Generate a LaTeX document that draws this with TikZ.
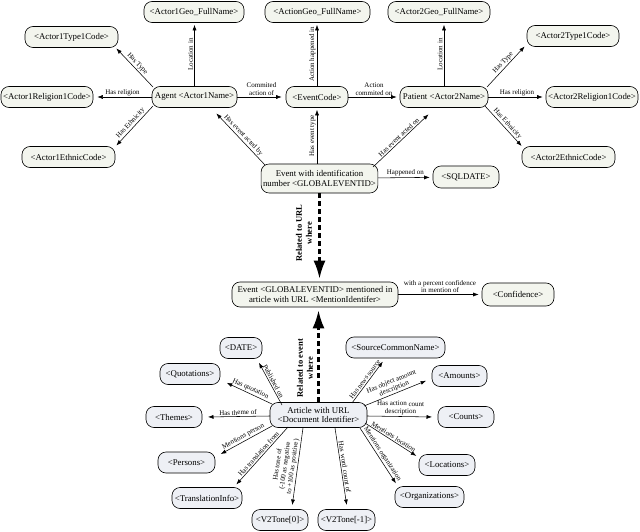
\documentclass[tikz,border=0pt]{standalone}
\usepackage{fontspec}
\setmainfont{Liberation Serif}
\usetikzlibrary{arrows.meta,calc}
\definecolor{topfill}{HTML}{F3F5EE}
\definecolor{botfill}{HTML}{EEF0F5}
\tikzset{
  box/.style={draw=black, line width=0.6pt, rounded corners=8pt, fill=topfill,
    minimum height=21pt, inner xsep=2pt, inner ysep=1pt,
    font=\fontsize{8.8}{9.8}\selectfont, align=center},
  boxb/.style={box, fill=botfill},
  arr/.style={-{Latex[length=5.5pt,width=4pt]}, line width=0.55pt, shorten >=2pt},
  lbl/.style={font=\fontsize{7}{7.6}\selectfont, sloped, above, inner sep=1.2pt, align=center, midway},
  bigdash/.style={line width=2.4pt, dash pattern=on 5pt off 3pt,
    -{Latex[length=18pt,width=12pt]}, shorten >=3pt},
  rellbl/.style={font=\bfseries\fontsize{8.5}{10}\selectfont, align=center, rotate=90}
}
\begin{document}
\begin{tikzpicture}[x=1pt,y=-1pt]
\fill[white] (0,0) rectangle (640,532);
\useasboundingbox (0,0) rectangle (640,532);
% top nodes
\node[box, minimum width=100pt] (geo1) at (194,12) {<Actor1Geo\_FullName>};
\node[box, minimum width=105pt] (evgeo) at (317.5,12) {<ActionGeo\_FullName>};
\node[box, minimum width=102pt] (geo2) at (439,12) {<Actor2Geo\_FullName>};
\node[box, minimum width=93pt] (type1) at (71.5,37) {<Actor1Type1Code>};
\node[box, minimum width=92pt] (type2) at (573,36) {<Actor2Type1Code>};
\node[box, minimum width=92pt] (rel1) at (47,97) {<Actor1Religion1Code>};
\node[box, minimum width=85pt] (agent) at (194.5,97) {Agent <Actor1Name>};
\node[box, minimum width=62pt] (evc) at (317,97) {<EventCode>};
\node[box, minimum width=88pt] (patient) at (444,97) {Patient <Actor2Name>};
\node[box, minimum width=92pt] (rel2) at (592,97) {<Actor2Religion1Code>};
\node[box, minimum width=93pt] (eth1) at (68.5,157) {<Actor1EthnicCode>};
\node[box, minimum width=93pt] (eth2) at (568.5,157) {<Actor2EthnicCode>};
\node[box, minimum width=115pt, minimum height=29pt] (event) at (319.5,178.5) {Event with identification\\number <GLOBALEVENTID>};
\node[box, minimum width=66pt, minimum height=22pt] (sql) at (466,177) {<SQLDATE>};
\node[box, minimum width=166pt, minimum height=25pt] (mention) at (315,294.5) {Event <GLOBALEVENTID> mentioned in\\article with URL <MentionIdentifer>};
\node[box, minimum width=72pt, minimum height=23pt] (conf) at (518,294.5) {<Confidence>};
% bottom nodes
\node[boxb, minimum width=97pt, minimum height=25pt] (article) at (318.5,415) {Article with URL\\<Document Identifier>};
\node[boxb, minimum width=42pt] (date) at (241,348) {<DATE>};
\node[boxb, minimum width=60pt] (quot) at (190,374) {<Quotations>};
\node[boxb, minimum width=56pt] (themes) at (174,417) {<Themes>};
\node[boxb, minimum width=57pt] (persons) at (186.5,462.5) {<Persons>};
\node[boxb, minimum width=70pt] (transl) at (207,498) {<TranslationInfo>};
\node[boxb, minimum width=56pt] (tone0) at (280,520) {<V2Tone[0]>};
\node[boxb, minimum width=57pt] (tone1) at (346.5,520) {<V2Tone[-1]>};
\node[boxb, minimum width=99pt] (scn) at (395.5,347.5) {<SourceCommonName>};
\node[boxb, minimum width=55pt] (amounts) at (459.5,376) {<Amounts>};
\node[boxb, minimum width=56pt] (counts) at (466,417) {<Counts>};
\node[boxb, minimum width=56pt] (locs) at (447,465) {<Locations>};
\node[boxb, minimum width=69pt] (orgs) at (429.5,497) {<Organizations>};
% top edges
\draw[arr] (agent) -- node[lbl]{Location in} (agent |- geo1.south);
\draw[arr] ($(agent)+(-41.5,-10)$) -- node[lbl]{Has Type} ($(type1)+(43.5,10)$);
\draw[arr, shorten >=4pt] (agent) -- node[lbl]{Has religion} (rel1);
\draw[arr] ($(agent)+(-41.5,9)$) -- node[lbl]{Has Ethnicity} ($(eth1)+(46.5,-10)$);
\draw[arr, shorten >=4pt] (agent) -- node[lbl]{Commited\\action of} (evc);
\draw[arr] (evc) -- node[lbl]{Action happened in} (evc |- evgeo.south);
\draw[arr, shorten >=3pt] (evc) -- node[lbl]{Action\\commited on} (patient);
\draw[arr] (patient) -- node[lbl]{Location in} (patient |- geo2.south);
\draw[arr] ($(patient)+(43,-10)$) -- node[lbl]{Has Type} ($(type2)+(-47,9)$);
\draw[arr, shorten >=3pt] (patient) -- node[lbl]{Has religion} (rel2);
\draw[arr] ($(patient)+(41,9)$) -- node[lbl]{Has Ethnicity} ($(eth2)+(-45.5,-9.5)$);
\draw[arr] ($(event)+(-54.5,-13.5)$) -- node[lbl]{Has event acted by} ($(agent)+(20.5,15)$);
\draw[arr] (evc |- event.north) -- node[lbl]{Has event type} (evc);
\draw[arr] ($(event)+(53.5,-11.5)$) -- node[lbl]{Has event acted on} ($(patient)+(-14,16)$);
\draw[arr, shorten >=3pt] (event) -- node[lbl]{Happened on} (sql);
\draw[bigdash] (event) -- (event |- mention.north);
\node[rellbl] (rellblA) at (304,233) {Related to URL\\where};
\draw[arr, shorten >=3pt] (mention) -- node[lbl]{with a percent confidence\\in mention of} (conf);
\draw[bigdash] (article) -- (article |- mention.south);
\node[rellbl] (rellblB) at (305,368) {Related to event\\where};
% bottom edges
\draw[arr] ($(article)+(-36.5,-10)$) -- node[lbl]{Published on} ($(date)+(17,13)$);
\draw[arr] ($(article)+(-46.5,-11)$) -- node[lbl]{Has quotation} ($(quot)+(35,8)$);
\draw[arr] ($(article)+(-48.5,1)$) -- node[lbl]{Has theme of} ($(themes)+(32,0)$);
\draw[arr] ($(article)+(-46.5,11)$) -- node[lbl]{Mentions person} ($(persons)+(32.5,-7.5)$);
\draw[arr] ($(article)+(-30.5,12)$) -- node[lbl]{Has translation from} ($(transl)+(28,-12)$);
\draw[arr] ($(article)+(-15.5,13)$) -- node[lbl]{Has tone of\\(-100 as negative\\to +100 as positive)} ($(tone0)+(12,-13)$);
\draw[arr] ($(article)+(16.5,13)$) -- node[lbl]{Has word count of} ($(tone1)+(0.5,-13)$);
\draw[arr] ($(article)+(41.5,13)$) -- node[lbl]{Mentions organization} ($(orgs)+(-32.5,-12)$);
\draw[arr] ($(article)+(46.5,8)$) -- node[lbl]{Mentions location} ($(locs)+(-29,-8)$);
\draw[arr] ($(article)+(48.5,1)$) -- node[lbl]{Has action count\\description} ($(counts)+(-32,0)$);
\draw[arr] ($(article)+(45.5,-9)$) -- node[lbl]{Has object amount\\description} ($(amounts)+(-31.5,4)$);
\draw[arr] ($(article)+(33.5,-12)$) -- node[lbl]{Has news source} ($(scn)+(-11.5,12.5)$);
\end{tikzpicture}
\end{document}
